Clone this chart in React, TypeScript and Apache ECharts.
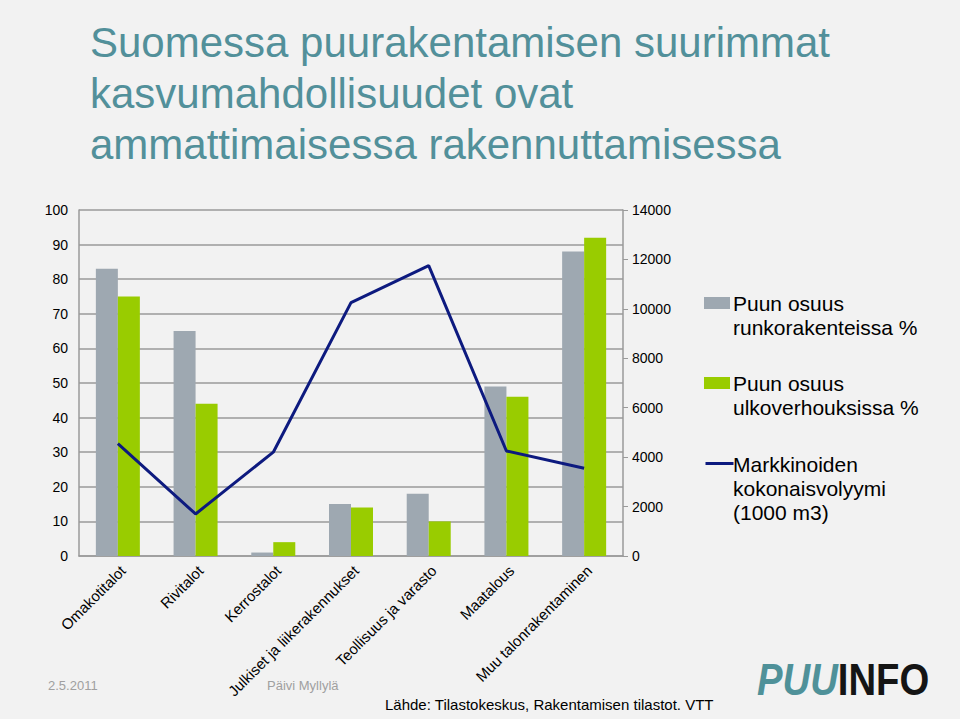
import React, { useEffect, useRef } from "react";
import * as echarts from "echarts";

const categories = [
  "Omakotitalot",
  "Rivitalot",
  "Kerrostalot",
  "Julkiset ja liikerakennukset",
  "Teollisuus ja varasto",
  "Maatalous",
  "Muu talonrakentaminen",
];
const frameShare = [83, 65, 1, 15, 18, 49, 88];
const claddingShare = [75, 44, 4, 14, 10, 46, 92];
const marketVolume = [4550, 1700, 4200, 10250, 11750, 4250, 3550];

const seriesNames = [
  "Puun osuus\nrunkorakenteissa %",
  "Puun osuus\nulkoverhouksissa %",
  "Markkinoiden\nkokonaisvolyymi\n(1000 m3)",
];

const FONT_NAME = "Liberation Sans";
const FONT = "'Liberation Sans', Arial, sans-serif";
const GRAY = "#9ea8b1";
const GREEN = "#99cc00";
const NAVY = "#0d1a7f";
const TEAL = "#52909a";
const AXIS_GRAY = "#9a9a9a";

export default function App() {
  const ref = useRef<HTMLDivElement>(null);
  useEffect(() => {
    document.body.style.margin = "0";
    const chart = echarts.init(ref.current!, null, { renderer: "svg" });
    const legendText = (x: number, y: number, text: string) => ({
      type: "text",
      left: x,
      top: y,
      style: { text, font: `21px ${FONT}`, fill: "#000", lineHeight: 24 },
    });
    chart.setOption({
      animation: false,
      backgroundColor: "#f2f2f2",
      textStyle: { fontFamily: FONT_NAME },
      grid: [
        { left: 79, right: 337, top: 210, bottom: 163, containLabel: false },
        { left: 84, right: 332, top: 210, bottom: 163, containLabel: false },
      ],
      xAxis: [
        {
          type: "category",
          gridIndex: 0,
          data: categories,
          axisLine: { show: true, lineStyle: { color: AXIS_GRAY, width: 1.5 } },
          axisTick: { show: false },
          axisLabel: { show: false },
        },
        {
          type: "category",
          gridIndex: 1,
          data: categories,
          axisLine: { show: false },
          axisTick: { show: false },
          splitLine: { show: false },
          axisLabel: {
            rotate: 45,
            interval: 0,
            margin: 12,
            color: "#000",
            fontSize: 15,
            fontFamily: FONT_NAME,
          },
        },
      ],
      yAxis: [
        {
          type: "value",
          gridIndex: 0,
          min: 0,
          max: 100,
          interval: 10,
          axisLine: { show: true, lineStyle: { color: AXIS_GRAY, width: 1.5 } },
          axisTick: { show: false },
          splitLine: { show: true, lineStyle: { color: AXIS_GRAY, width: 1.5 } },
          axisLabel: { color: "#000", fontSize: 14, margin: 11, fontFamily: FONT_NAME },
        },
        {
          type: "value",
          gridIndex: 0,
          min: 0,
          max: 14000,
          interval: 2000,
          position: "right",
          axisLine: { show: true, lineStyle: { color: AXIS_GRAY, width: 1.5 } },
          axisTick: { show: true, length: 5, lineStyle: { color: AXIS_GRAY } },
          splitLine: { show: false },
          axisLabel: {
            color: "#000",
            fontSize: 14,
            margin: 9,
            fontFamily: FONT_NAME,
            formatter: (v: number) => String(v),
          },
        },
        {
          type: "value",
          gridIndex: 1,
          show: false,
          splitLine: { show: false },
        },
      ],
      series: [
        {
          name: seriesNames[0],
          type: "bar",
          data: frameShare,
          barWidth: 22,
          barGap: "0%",
          itemStyle: { color: GRAY },
        },
        {
          name: seriesNames[1],
          type: "bar",
          data: claddingShare,
          barWidth: 22,
          barGap: "0%",
          itemStyle: { color: GREEN },
        },
        {
          name: seriesNames[2],
          type: "line",
          yAxisIndex: 1,
          data: marketVolume,
          symbol: "none",
          lineStyle: { color: NAVY, width: 3 },
          itemStyle: { color: NAVY },
        },
      ],
      graphic: [
        {
          type: "text",
          left: 90,
          top: 17,
          style: {
            text: "Suomessa puurakentamisen suurimmat\nkasvumahdollisuudet ovat\nammattimaisessa rakennuttamisessa",
            font: `42px ${FONT}`,
            fill: TEAL,
            lineHeight: 51,
          },
        },
        { type: "rect", left: 704, top: 297, shape: { width: 26, height: 12 }, style: { fill: GRAY } },
        legendText(733, 291, seriesNames[0]),
        { type: "rect", left: 704, top: 377, shape: { width: 26, height: 12 }, style: { fill: GREEN } },
        legendText(733, 371, seriesNames[1]),
        {
          type: "line",
          left: 703,
          top: 461,
          shape: { x1: 0, y1: 0, x2: 28, y2: 0 },
          style: { stroke: NAVY, lineWidth: 3 },
        },
        legendText(733, 452, seriesNames[2]),
        {
          type: "text",
          left: 48,
          top: 679,
          style: { text: "2.5.2011", font: `13px ${FONT}`, fill: "#a0a0a0" },
        },
        {
          type: "text",
          left: 267,
          top: 679,
          style: { text: "Päivi Myllylä", font: `13px ${FONT}`, fill: "#a0a0a0" },
        },
        {
          type: "text",
          left: 385,
          top: 697,
          style: {
            text: "Lähde: Tilastokeskus, Rakentamisen tilastot. VTT",
            font: `15px ${FONT}`,
            fill: "#000",
          },
        },
        {
          type: "text",
          x: 757,
          y: 658,
          scaleX: 0.87,
          style: {
            text: "{a|PUU}{b|INFO}",
            verticalAlign: "top",
            rich: {
              a: {
                fontSize: 44,
                fontWeight: 900,
                fontStyle: "italic",
                fontFamily: FONT_NAME,
                fill: "#4f9199",
              },
              b: {
                fontSize: 44,
                fontWeight: "bold",
                fontFamily: FONT_NAME,
                fill: "#151515",
              },
            },
          },
        },
      ],
    });
    return () => chart.dispose();
  }, []);
  return <div ref={ref} style={{ width: 960, height: 719 }} />;
}
